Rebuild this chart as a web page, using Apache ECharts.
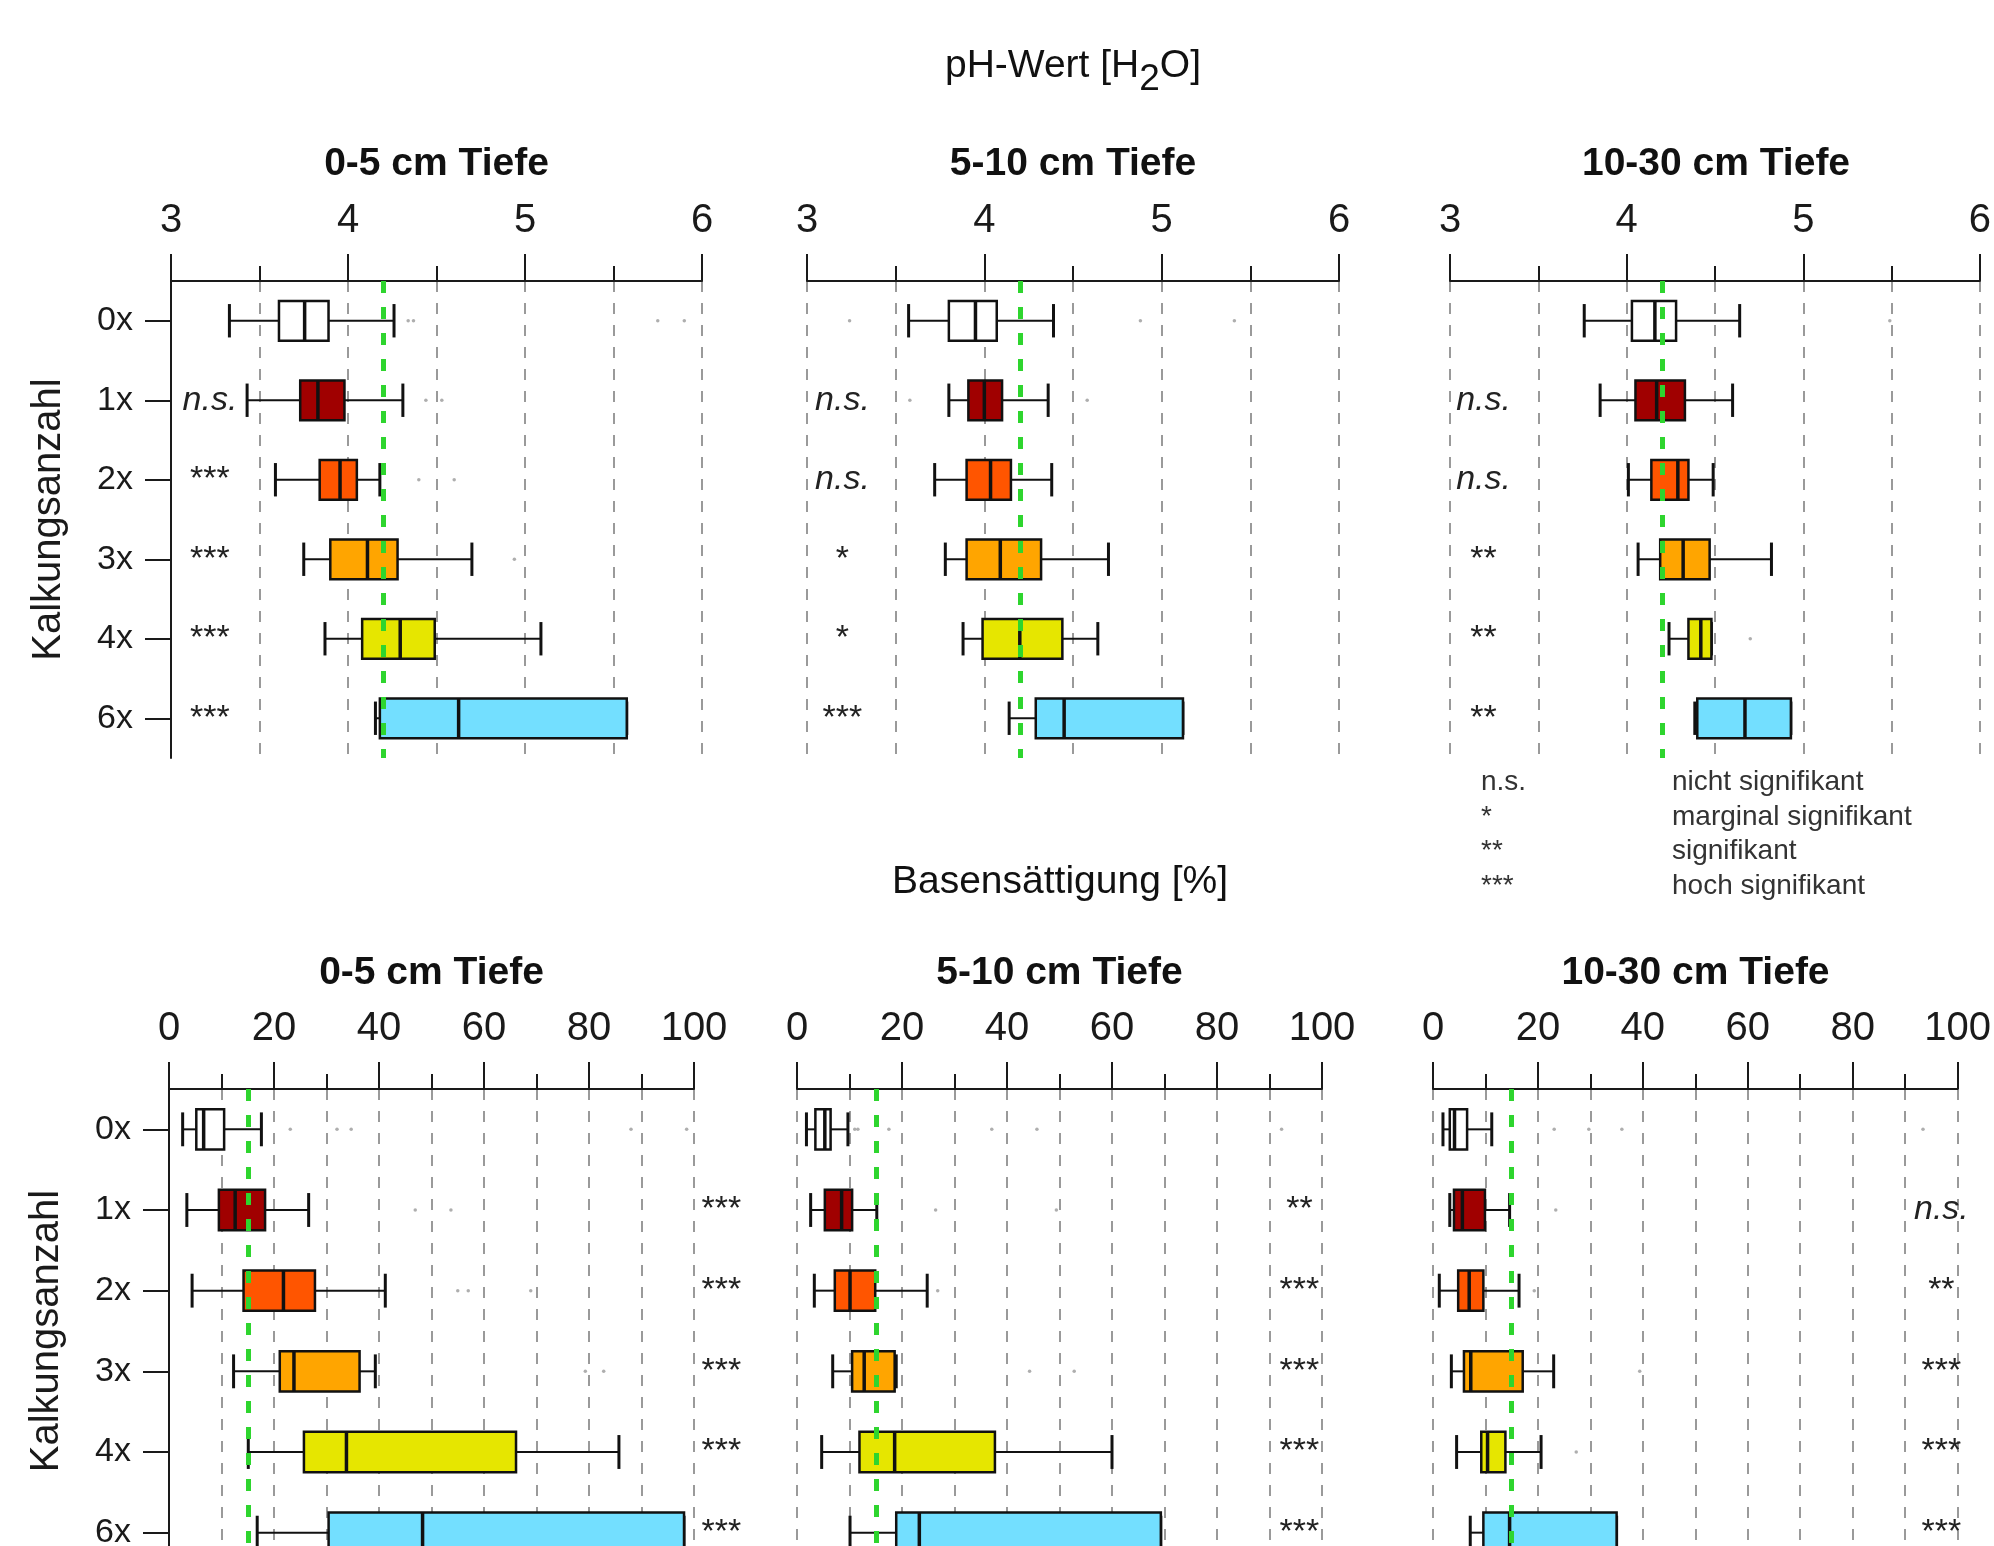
<!DOCTYPE html>
<html>
<head>
<meta charset="utf-8">
<script src="https://cdn.jsdelivr.net/npm/echarts@6/dist/echarts.min.js"></script>
<style>
html,body{margin:0;padding:0;background:#ffffff;overflow:hidden;}
#frame{width:1994px;height:1546px;overflow:hidden;position:relative;}
#chart{width:1994px;height:1600px;position:absolute;left:0;top:0;}
</style>
</head>
<body>
<div id="frame"><div id="chart"></div></div>
<script>
// ---------------- DATA ----------------
const categories = ['0x', '1x', '2x', '3x', '4x', '6x'];
const boxColors = ['#FFFFFF', '#A00000', '#FF5500', '#FFA500', '#E6E600', '#73DFFF'];

// boxes: [lower whisker, Q1, median, Q3, upper whisker] per category
const phBox_0_5 = [
  [3.33, 3.61, 3.755, 3.89, 4.26],
  [3.43, 3.73, 3.83, 3.98, 4.31],
  [3.59, 3.84, 3.955, 4.05, 4.18],
  [3.75, 3.90, 4.11, 4.28, 4.70],
  [3.87, 4.08, 4.295, 4.49, 5.09],
  [4.155, 4.18, 4.625, 5.575, 5.575]
];
const phBox_5_10 = [
  [3.573, 3.80, 3.95, 4.07, 4.39],
  [3.80, 3.91, 4.00, 4.10, 4.36],
  [3.72, 3.90, 4.035, 4.15, 4.38],
  [3.78, 3.90, 4.09, 4.32, 4.70],
  [3.88, 3.99, 4.20, 4.44, 4.64],
  [4.14, 4.29, 4.45, 5.12, 5.12]
];
const phBox_10_30 = [
  [3.76, 4.03, 4.16, 4.28, 4.64],
  [3.85, 4.05, 4.17, 4.33, 4.60],
  [4.01, 4.14, 4.29, 4.35, 4.49],
  [4.065, 4.19, 4.32, 4.47, 4.82],
  [4.24, 4.35, 4.42, 4.48, 4.48],
  [4.386, 4.40, 4.67, 4.93, 4.93]
];
const bsBox_0_5 = [
  [2.6, 5.2, 6.6, 10.5, 17.6],
  [3.4, 9.5, 12.6, 18.3, 26.6],
  [4.4, 14.2, 21.8, 27.8, 41.2],
  [12.3, 21.1, 23.8, 36.3, 39.3],
  [15.1, 25.7, 33.8, 66.1, 85.7],
  [16.8, 30.4, 48.3, 98.1, 98.1]
];
const bsBox_5_10 = [
  [1.8, 3.5, 5.3, 6.4, 9.7],
  [2.6, 5.3, 8.5, 10.5, 15.2],
  [3.3, 7.2, 10.1, 14.9, 24.8],
  [6.8, 10.5, 12.8, 18.6, 18.9],
  [4.7, 11.9, 18.6, 37.7, 60.0],
  [10.1, 18.9, 23.3, 69.3, 69.3]
];
const bsBox_10_30 = [
  [1.9, 3.2, 4.1, 6.5, 11.2],
  [3.2, 4.0, 5.6, 9.9, 14.6],
  [1.2, 4.8, 6.9, 9.6, 16.4],
  [3.5, 5.9, 7.2, 17.1, 23.0],
  [4.5, 9.2, 10.4, 13.8, 20.6],
  [7.1, 9.6, 14.6, 35.0, 35.0]
];

// outliers: [value, category index]
const phOut_0_5 = [[4.34, 0], [4.37, 0], [5.75, 0], [5.90, 0], [4.44, 1], [4.53, 1], [4.40, 2], [4.60, 2], [4.94, 3]];
const phOut_5_10 = [[3.24, 0], [4.88, 0], [5.41, 0], [3.58, 1], [4.58, 1]];
const phOut_10_30 = [[5.49, 0], [4.70, 4]];
const bsOut_0_5 = [[23.1, 0], [32.0, 0], [34.7, 0], [88.0, 0], [98.6, 0], [46.9, 1], [53.7, 1], [55.0, 2], [57.0, 2], [68.9, 2], [79.3, 3], [82.8, 3]];
const bsOut_5_10 = [[11.0, 0], [11.6, 0], [17.5, 0], [37.1, 0], [45.7, 0], [92.3, 0], [26.4, 1], [49.4, 1], [26.8, 2], [44.3, 3], [52.8, 3]];
const bsOut_10_30 = [[23.1, 0], [29.7, 0], [36.0, 0], [93.4, 0], [23.4, 1], [19.3, 2], [39.4, 3], [27.3, 4]];

// significance labels per category
const phSig_0_5 = ['', 'n.s.', '***', '***', '***', '***'];
const phSig_5_10 = ['', 'n.s.', 'n.s.', '*', '*', '***'];
const phSig_10_30 = ['', 'n.s.', 'n.s.', '**', '**', '**'];
const bsSig_0_5 = ['', '***', '***', '***', '***', '***'];
const bsSig_5_10 = ['', '**', '***', '***', '***', '***'];
const bsSig_10_30 = ['', 'n.s.', '**', '***', '***', '***'];
// x value where the significance label sits
const sigPos = [3.22, 3.20, 3.19, 105.2, 95.7, 96.9];

// reference (green) lines
const phRef = 4.2;
const bsRef = 15;

const phTicks = { min: 3, max: 6, interval: 1 };
const bsTicks = { min: 0, max: 100, interval: 20 };

const panelTitles = ['0-5 cm Tiefe', '5-10 cm Tiefe', '10-30 cm Tiefe'];
const legendKeys = ['n.s.', '*', '**', '***'];
const legendTexts = ['nicht signifikant', 'marginal signifikant', 'signifikant', 'hoch signifikant'];

// ---------------- LAYOUT ----------------
const FONT = '"Liberation Sans", Arial, Helvetica, sans-serif';
const INK = '#1a1a1a';
const grids = [
  { left: 171, width: 531, top: 281, height: 477 },
  { left: 807, width: 532, top: 281, height: 477 },
  { left: 1450, width: 532, top: 281, height: 477 },
  { left: 169, width: 525, top: 1089, height: 484 },
  { left: 797, width: 525, top: 1089, height: 484 },
  { left: 1433, width: 525, top: 1089, height: 484 }
];

const panels = [
  { box: phBox_0_5, out: phOut_0_5, sig: phSig_0_5, ref: phRef, ticks: phTicks },
  { box: phBox_5_10, out: phOut_5_10, sig: phSig_5_10, ref: phRef, ticks: phTicks },
  { box: phBox_10_30, out: phOut_10_30, sig: phSig_10_30, ref: phRef, ticks: phTicks },
  { box: bsBox_0_5, out: bsOut_0_5, sig: bsSig_0_5, ref: bsRef, ticks: bsTicks },
  { box: bsBox_5_10, out: bsOut_5_10, sig: bsSig_5_10, ref: bsRef, ticks: bsTicks },
  { box: bsBox_10_30, out: bsOut_10_30, sig: bsSig_10_30, ref: bsRef, ticks: bsTicks }
];

const gridLineStyle = { color: '#9a9a9a', width: 2, type: [11, 11] };

function renderBox(params, api) {
  const k = api.value(0);
  const v = [1, 2, 3, 4, 5].map(d => api.value(d));
  const p = v.map(x => api.coord([x, k]));
  const y = p[0][1];
  const band = api.size([0, 1])[1];
  const bh = band * 0.5;
  const ch = band * 0.42;
  const stroke = '#111111';
  const children = [
    { type: 'line', shape: { x1: p[0][0], y1: y, x2: p[1][0], y2: y }, style: { stroke, lineWidth: 2 } },
    { type: 'line', shape: { x1: p[3][0], y1: y, x2: p[4][0], y2: y }, style: { stroke, lineWidth: 2 } },
    { type: 'line', shape: { x1: p[0][0], y1: y - ch / 2, x2: p[0][0], y2: y + ch / 2 }, style: { stroke, lineWidth: 3 } },
    { type: 'line', shape: { x1: p[4][0], y1: y - ch / 2, x2: p[4][0], y2: y + ch / 2 }, style: { stroke, lineWidth: 3 } },
    { type: 'rect', shape: { x: p[1][0], y: y - bh / 2, width: p[3][0] - p[1][0], height: bh },
      style: { fill: boxColors[k], stroke, lineWidth: 2.5 } },
    { type: 'line', shape: { x1: p[2][0], y1: y - bh / 2, x2: p[2][0], y2: y + bh / 2 }, style: { stroke, lineWidth: 3.5 } }
  ];
  return { type: 'group', children };
}

const xAxes = [], yAxes = [], series = [];
panels.forEach((pn, i) => {
  const first = (i % 3 === 0);
  xAxes.push({
    type: 'value', gridIndex: i, position: 'top',
    min: pn.ticks.min, max: pn.ticks.max, interval: pn.ticks.interval,
    axisLine: { show: true, onZero: false, lineStyle: { color: INK, width: 2 } },
    axisTick: { show: true, length: 27, lineStyle: { color: INK, width: 2 } },
    minorTick: { show: true, splitNumber: 2, length: 15, lineStyle: { color: INK, width: 2 } },
    splitLine: { show: true, lineStyle: gridLineStyle },
    minorSplitLine: { show: true, lineStyle: gridLineStyle },
    axisLabel: { fontSize: 40, color: INK, margin: 40, fontFamily: FONT, showMinLabel: true, showMaxLabel: true }
  });
  yAxes.push({
    type: 'category', gridIndex: i, data: categories, inverse: true, boundaryGap: true,
    axisLine: { show: first, onZero: false, lineStyle: { color: INK, width: 2 } },
    axisTick: { show: first, alignWithLabel: true, length: 26, lineStyle: { color: INK, width: 2 } },
    axisLabel: { show: first, fontSize: 34, color: INK, margin: 38, fontFamily: FONT },
    splitLine: { show: false },
    name: first ? 'Kalkungsanzahl' : '',
    nameLocation: 'middle', nameGap: 102,
    nameTextStyle: { fontSize: 40, color: INK, fontFamily: FONT }
  });
  series.push({
    type: 'custom', xAxisIndex: i, yAxisIndex: i, z: 3, clip: false,
    renderItem: renderBox,
    encode: { x: [1, 2, 3, 4, 5], y: 0 },
    data: pn.box.map((b, k) => [k].concat(b))
  });
  series.push({
    type: 'scatter', xAxisIndex: i, yAxisIndex: i, z: 5,
    symbol: 'circle', symbolSize: 3.5,
    itemStyle: { color: '#9a9a9a' },
    data: pn.out,
    markLine: {
      silent: true, symbol: 'none', animation: false,
      label: { show: false },
      lineStyle: { color: '#2ed52e', width: 5, type: [12, 14], opacity: 1 },
      data: [{ xAxis: pn.ref }]
    }
  });
  const sig = pn.sig;
  series.push({
    type: 'custom', xAxisIndex: i, yAxisIndex: i, z: 6, clip: false,
    encode: { x: 0, y: 1 },
    data: sig.map((s, k) => [sigPos[i], k]),
    renderItem: function (params, api) {
      const t = sig[params.dataIndex];
      if (!t) return null;
      const p = api.coord([api.value(0), api.value(1)]);
      return {
        type: 'text', x: p[0], y: p[1],
        style: {
          text: t, fontSize: 34, fontFamily: FONT,
          fontStyle: t === 'n.s.' ? 'italic' : 'normal',
          fill: '#222', align: 'center', verticalAlign: 'middle'
        }
      };
    }
  });
});

const graphics = [];
grids.forEach((g, i) => {
  graphics.push({
    type: 'text', x: g.left + g.width / 2, y: i < 3 ? 164 : 973,
    style: { text: panelTitles[i % 3], fontSize: 39, fontWeight: 'bold', fontFamily: FONT, fill: '#111', align: 'center', verticalAlign: 'middle' }
  });
});
graphics.push({
  type: 'text', x: 1073, y: 67,
  style: {
    text: '{a|pH-Wert [H}{s|2}{a|O]}', align: 'center', verticalAlign: 'middle', fill: '#111',
    rich: {
      a: { fontSize: 39, lineHeight: 40, fontFamily: FONT, verticalAlign: 'top', fill: '#111' },
      s: { fontSize: 37, lineHeight: 38, fontFamily: FONT, verticalAlign: 'top', padding: [14, 0, 0, 0], fill: '#111' }
    }
  }
});
graphics.push({
  type: 'text', x: 1060, y: 882,
  style: { text: 'Basensättigung [%]', fontSize: 39, fontFamily: FONT, fill: '#111', align: 'center', verticalAlign: 'middle' }
});
legendKeys.forEach((k, j) => {
  const y = 782 + j * 34.8;
  graphics.push({ type: 'text', x: 1481, y: y, style: { text: k, fontSize: 28, fontFamily: FONT, fill: '#333', align: 'left', verticalAlign: 'middle' } });
  graphics.push({ type: 'text', x: 1672, y: y, style: { text: legendTexts[j], fontSize: 28, fontFamily: FONT, fill: '#333', align: 'left', verticalAlign: 'middle' } });
});

const chart = echarts.init(document.getElementById('chart'), null, { renderer: 'canvas' });
chart.setOption({
  animation: false,
  backgroundColor: '#ffffff',
  textStyle: { fontFamily: FONT },
  grid: grids.map(g => Object.assign({ containLabel: false }, g)),
  xAxis: xAxes,
  yAxis: yAxes,
  series: series,
  graphic: graphics
});
</script>
</body>
</html>
